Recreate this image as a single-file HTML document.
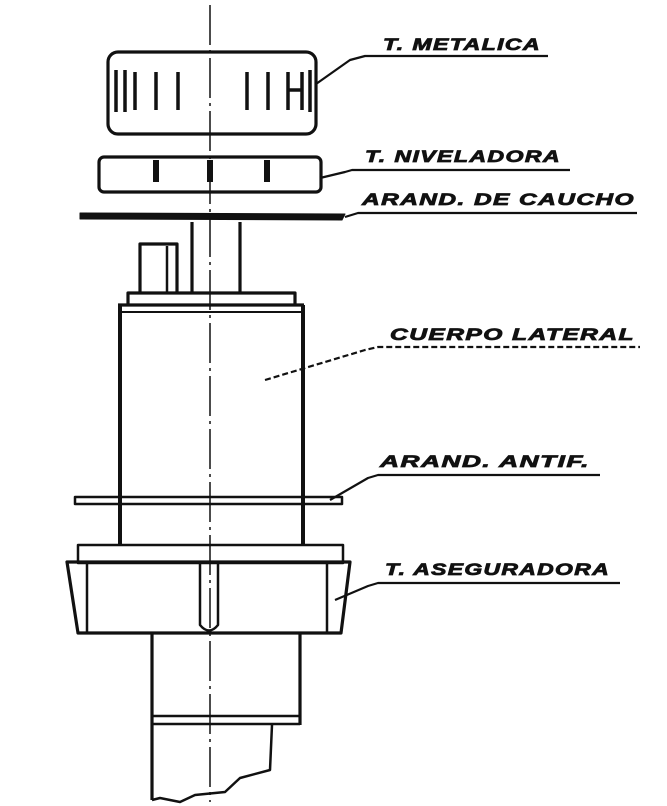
<!DOCTYPE html>
<html><head><meta charset="utf-8"><style>
html,body{margin:0;padding:0;background:#fff;}
svg{display:block}
text{font-family:"Liberation Sans",sans-serif;font-weight:bold;font-style:italic;font-size:17px;fill:#111;stroke:#111;stroke-width:0.8;letter-spacing:1px}
</style></head><body>
<svg width="667" height="806" viewBox="0 0 667 806" xmlns="http://www.w3.org/2000/svg">
<g stroke="#111" fill="none" stroke-width="3.2" stroke-linejoin="round">
<line x1="210" y1="5" x2="210" y2="802" stroke-width="1.5" stroke-dasharray="40,5,3,5"/>
<rect x="108" y="52" width="208" height="82" rx="10"/>
<g stroke-width="3.5">
<line x1="116" y1="70" x2="116" y2="112"/><line x1="125" y1="70" x2="125" y2="112"/>
<line x1="135" y1="72" x2="135" y2="110"/><line x1="156" y1="72" x2="156" y2="110"/>
<line x1="178" y1="72" x2="178" y2="110"/>
<line x1="247" y1="72" x2="247" y2="110"/><line x1="268" y1="72" x2="268" y2="110"/>
<line x1="288" y1="72" x2="288" y2="110"/><line x1="302" y1="72" x2="302" y2="110"/>
<line x1="288" y1="90" x2="302" y2="90"/><line x1="310" y1="70" x2="310" y2="112"/>
</g>
<rect x="99" y="157" width="222" height="35" rx="5"/>
<g stroke-width="6"><line x1="156" y1="160" x2="156" y2="182"/><line x1="210" y1="160" x2="210" y2="182"/><line x1="267" y1="160" x2="267" y2="182"/></g>
<path d="M80 213 L345 214 L342 220 L80 219 Z" fill="#111" stroke-width="1"/>
<line x1="192" y1="222" x2="192" y2="293"/><line x1="240" y1="222" x2="240" y2="293"/>
<path d="M140 292 V244 H177 V292"/><line x1="167" y1="246" x2="167" y2="292" stroke-width="2.5"/>
<path d="M128 305 V293 H295 V305"/>
<line x1="118" y1="305" x2="304" y2="305"/>
<line x1="118" y1="312" x2="304" y2="312" stroke-width="2"/>
<line x1="120" y1="305" x2="120" y2="545" stroke-width="4"/>
<line x1="303" y1="305" x2="303" y2="545" stroke-width="4"/>
<rect x="75" y="497" width="267" height="7" stroke-width="2.5"/>
<rect x="78" y="545" width="265" height="18" stroke-width="2.5"/>
<path d="M67 562 L350 562 L341 633 L78 633 Z"/>
<line x1="87" y1="563" x2="87" y2="632" stroke-width="2.5"/>
<line x1="327" y1="563" x2="327" y2="632" stroke-width="2.5"/>
<path d="M200 563 V625 Q209 636 218 625 V563" stroke-width="2.5"/>
<line x1="152" y1="633" x2="152" y2="800"/>
<line x1="300" y1="633" x2="300" y2="725"/>
<line x1="152" y1="716" x2="300" y2="716" stroke-width="2.5"/>
<line x1="152" y1="724" x2="300" y2="724" stroke-width="2.5"/>
<path d="M272 725 L270 770 L240 778 L225 792 L195 795 L180 802 L160 798 L152 800" stroke-width="2.5"/>
<g stroke-width="2.2">
<polyline points="316,84 350,60 365,56 548,56"/>
<polyline points="320,178 345,172 352,170 570,170"/>
<polyline points="345,217 358,213 637,213"/>
<polyline points="265,380 365,350 378,347 640,347" stroke-dasharray="6,3"/>
<polyline points="330,500 368,478 378,475 600,475"/>
<polyline points="335,600 368,586 378,583 620,583"/>
</g>
</g>
<text x="383" y="50" textLength="158" lengthAdjust="spacingAndGlyphs">T. METALICA</text>
<text x="365" y="162" textLength="196" lengthAdjust="spacingAndGlyphs">T. NIVELADORA</text>
<text x="362" y="205" textLength="273" lengthAdjust="spacingAndGlyphs">ARAND.  DE  CAUCHO</text>
<text x="390" y="340" textLength="245" lengthAdjust="spacingAndGlyphs">CUERPO  LATERAL</text>
<text x="380" y="467" textLength="210" lengthAdjust="spacingAndGlyphs">ARAND.  ANTIF.</text>
<text x="385" y="575" textLength="225" lengthAdjust="spacingAndGlyphs">T. ASEGURADORA</text>
</svg>
</body></html>
